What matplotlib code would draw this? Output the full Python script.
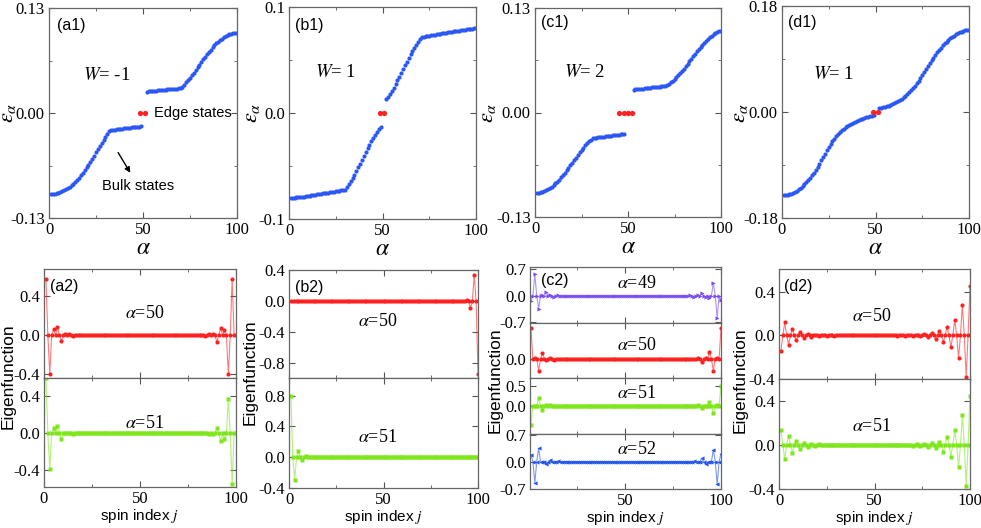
import numpy as np
import matplotlib
matplotlib.use("Agg")
import matplotlib.pyplot as plt
from matplotlib.ticker import FixedLocator, FormatStrFormatter

plt.rcParams["font.family"] = "Liberation Serif"
plt.rcParams["mathtext.fontset"] = "stix"
plt.rcParams["axes.unicode_minus"] = False

BLUE = "#2a57f5"
RED = "#ff2020"
GREEN = "#7fe61c"
PURPLE = "#7a4cf2"
BLUE2 = "#2255ee"

# ---------------- top row: spectra ----------------
a1_low = [-0.1003, -0.1001, -0.0998, -0.0993, -0.0987, -0.0979, -0.0970, -0.0959, -0.0946, -0.0931,
          -0.0914, -0.0895, -0.0874, -0.0851, -0.0826, -0.0799, -0.0770, -0.0739, -0.0707, -0.0673,
          -0.0638, -0.0602, -0.0565, -0.0527, -0.0489, -0.0451, -0.0413, -0.0376, -0.0338, -0.0299,
          -0.0259, -0.0218,
          -0.0212, -0.0209, -0.0206, -0.0203, -0.0200, -0.0197, -0.0194, -0.0191, -0.0188, -0.0185,
          -0.0182, -0.0179, -0.0176, -0.0173, -0.0170, -0.0168, -0.0166]
a1_up = [0.0266, 0.0268, 0.0270, 0.0273, 0.0275, 0.0277, 0.0280, 0.0282, 0.0284, 0.0286,
         0.0289, 0.0291, 0.0293, 0.0296, 0.0298, 0.0300, 0.0303, 0.0305, 0.0307,
         0.0328, 0.0352, 0.0378, 0.0406, 0.0436, 0.0467, 0.0499, 0.0532, 0.0565, 0.0598,
         0.0631, 0.0663, 0.0695, 0.0726, 0.0756, 0.0785, 0.0812, 0.0838, 0.0862, 0.0884,
         0.0904, 0.0922, 0.0938, 0.0952, 0.0964, 0.0973, 0.0980, 0.0985, 0.0989, 0.0991]

b1_low = [-0.0800, -0.0799, -0.0798, -0.0797, -0.0795, -0.0793, -0.0791, -0.0789, -0.0786, -0.0783,
          -0.0780, -0.0777, -0.0774, -0.0771, -0.0768, -0.0765, -0.0762, -0.0759, -0.0756, -0.0753,
          -0.0750, -0.0747, -0.0744, -0.0741, -0.0738, -0.0735, -0.0732, -0.0729, -0.0726, -0.0722,
          -0.0698, -0.0672, -0.0644, -0.0614, -0.0582, -0.0548, -0.0513, -0.0477, -0.0441, -0.0405,
          -0.0369, -0.0334, -0.0300, -0.0267, -0.0236, -0.0207, -0.0180, -0.0155, -0.0132]
b1_up = [0.0128, 0.0153, 0.0180, 0.0209, 0.0240, 0.0273, 0.0307, 0.0342, 0.0378, 0.0414,
         0.0450, 0.0485, 0.0519, 0.0552, 0.0583, 0.0613, 0.0642, 0.0669, 0.0695, 0.0718,
         0.0721, 0.0724, 0.0727, 0.0730, 0.0733, 0.0736, 0.0739, 0.0742, 0.0745, 0.0748,
         0.0751, 0.0754, 0.0757, 0.0760, 0.0763, 0.0766, 0.0769, 0.0772, 0.0775, 0.0778,
         0.0781, 0.0784, 0.0787, 0.0790, 0.0792, 0.0794, 0.0796, 0.0798, 0.0800]

c1_low = [-0.1003, -0.1000, -0.0995, -0.0988, -0.0979, -0.0968, -0.0955, -0.0940, -0.0923, -0.0904,
          -0.0883, -0.0860, -0.0835, -0.0808, -0.0780, -0.0751, -0.0720, -0.0689, -0.0657, -0.0625,
          -0.0592, -0.0560, -0.0528, -0.0497, -0.0467, -0.0438, -0.0410, -0.0384, -0.0360, -0.0338,
          -0.0318,
          -0.0315, -0.0312, -0.0309, -0.0306, -0.0303, -0.0300, -0.0297, -0.0294, -0.0291, -0.0288,
          -0.0285, -0.0282, -0.0279, -0.0276, -0.0273, -0.0270, -0.0268]
c1_up = [0.0285, 0.0288, 0.0290, 0.0293, 0.0296, 0.0298, 0.0301, 0.0304, 0.0306, 0.0309,
         0.0312, 0.0314, 0.0317, 0.0320, 0.0322, 0.0325, 0.0328, 0.0330,
         0.0342, 0.0357, 0.0374, 0.0393, 0.0414, 0.0437, 0.0462, 0.0489, 0.0517, 0.0546,
         0.0576, 0.0607, 0.0638, 0.0669, 0.0700, 0.0731, 0.0761, 0.0790, 0.0818, 0.0845,
         0.0870, 0.0893, 0.0914, 0.0935, 0.0955, 0.0972, 0.0988, 0.1001, 0.1011, 0.1018]

d1_low = [-0.1408, -0.1406, -0.1402, -0.1395, -0.1385, -0.1372, -0.1356, -0.1337, -0.1315, -0.1290,
          -0.1262, -0.1231, -0.1197, -0.1160, -0.1120, -0.1077, -0.1031, -0.0982, -0.0930, -0.0875,
          -0.0819, -0.0762, -0.0705, -0.0650, -0.0597, -0.0547, -0.0500, -0.0456, -0.0416, -0.0379,
          -0.0345, -0.0314, -0.0286, -0.0260, -0.0237, -0.0216, -0.0197, -0.0180, -0.0164, -0.0150,
          -0.0137, -0.0125, -0.0114, -0.0103, -0.0093, -0.0083, -0.0074, -0.0065, -0.0057]
d1_up = [0.0060, 0.0068, 0.0077, 0.0087, 0.0098, 0.0110, 0.0123, 0.0137, 0.0152, 0.0168,
         0.0186, 0.0205, 0.0226, 0.0249, 0.0274, 0.0302, 0.0333, 0.0367, 0.0404, 0.0444,
         0.0487, 0.0533, 0.0581, 0.0631, 0.0683, 0.0730, 0.0780, 0.0830, 0.0878, 0.0925,
         0.0970, 0.1013, 0.1054, 0.1093, 0.1130, 0.1164, 0.1196, 0.1225, 0.1252, 0.1276,
         0.1298, 0.1318, 0.1336, 0.1351, 0.1364, 0.1375, 0.1384, 0.1391, 0.1396]

alpha_lo = np.arange(1, 50)
alpha_up = np.arange(52, 101)
alpha_lo_c = np.arange(1, 49)
alpha_up_c = np.arange(53, 101)

# edge-state dots as drawn (spread slightly apart in the figure)
edge_a1 = [48.3, 50.9]
edge_b1 = [48.7, 50.9]
edge_c1 = [45.2, 47.6, 50.0, 52.4]
edge_d1 = [48.6, 51.2]

# ---------------- bottom row: eigenfunctions ----------------
j = np.arange(1, 101)

psi_a50 = ([0.58, 0, -0.40, 0, 0.06, 0, 0.08, 0, -0.06, 0, 0.01, 0, 0.01, 0, -0.01, 0] + [0.0] * 67
           + [-0.01, 0, 0.01, 0, 0.01, 0, -0.07, 0, 0.07, 0, 0.05, 0, -0.40, 0, 0.58, 0, 0])
psi_a51 = ([0.60, 0, -0.39, 0, 0.055, 0, 0.08, 0, -0.065, 0, 0.01, 0, 0.01, 0, -0.01, 0] + [0.0] * 67
           + [0.01, 0, -0.01, 0, -0.01, 0, 0.055, 0, -0.08, 0, -0.06, 0, 0.37, 0, -0.55, 0, 0])

psi_b50 = [0.0] * 91 + [0.005, 0, 0.02, 0, -0.09, 0, 0.34, 0, -0.94]
psi_b51 = [0.80, 0, -0.29, 0, 0.08, 0, -0.03, 0, 0.01, 0] + [0.0] * 90

psi_c49 = ([-0.14, 0, 0.57, 0, -0.34, 0, 0.02, 0, 0.09, 0, 0.03, 0, -0.02, 0, 0.01, 0] + [0.0] * 67
           + [0.01, 0, -0.02, 0, 0.02, 0, 0.07, 0, -0.03, 0, -0.05, 0, 0.34, 0, -0.60, 0, -0.12])
psi_c50 = ([0.62, 0, 0.02, 0, -0.23, 0, 0.13, 0, -0.02, 0, 0.02, 0, -0.01, 0, 0.01, 0] + [0.0] * 67
           + [0.0, 0, 0.01, 0, 0.03, 0, -0.05, 0, 0.02, 0, 0.14, 0, -0.23, 0, 0.03, 0, 0.62])
psi_c51 = ([-0.48, 0, 0.0, 0, 0.20, 0, -0.09, 0, 0.02, 0, 0.03, 0, -0.01, 0, 0.01, 0] + [0.0] * 67
           + [0.0, 0, 0.01, 0, 0.02, 0, -0.04, 0, 0.01, 0, 0.11, 0, -0.18, 0, 0.02, 0, 0.50])
psi_c52 = ([0.18, 0, -0.56, 0, 0.35, 0, -0.01, 0, -0.07, 0, 0.04, 0, -0.02, 0, 0.01, 0] + [0.0] * 67
           + [0.0, 0, 0.01, 0, -0.02, 0, 0.09, 0, -0.06, 0, -0.02, 0, 0.31, 0, -0.59, 0, 0.21])

psi_d50 = ([-0.14, 0, 0.12, 0, -0.085, 0, 0.06, 0, -0.045, 0, 0.03, 0, -0.02, 0, 0.015, 0,
            -0.01, 0, 0.008, 0, -0.005, 0, 0.004, 0, -0.003, 0, 0.002, 0, -0.001, 0] + [0.0] * 29
           + [0.001, 0, -0.0015, 0, 0.002, 0, -0.003, 0, 0.004, 0, -0.005, 0, 0.007, 0, -0.009, 0,
              0.012, 0, -0.016, 0, 0.022, 0, -0.03, 0, 0.04, 0, -0.06, 0, 0.077, 0, -0.108, 0,
              0.145, 0, -0.206, 0, 0.283, 0, -0.378, 0, 0.452])
psi_d51 = ([0.135, 0, -0.126, 0, 0.084, 0, -0.07, 0, 0.039, 0, -0.04, 0, 0.02, 0, -0.015, 0,
            0.01, 0, -0.008, 0, 0.005, 0, -0.004, 0, 0.003, 0, -0.002, 0, 0.001, 0] + [0.0] * 29
           + [0.001, 0, -0.0015, 0, 0.002, 0, -0.003, 0, 0.004, 0, -0.005, 0, 0.006, 0, -0.008, 0,
              0.011, 0, -0.015, 0, 0.02, 0, -0.025, 0, 0.03, 0, -0.063, 0, 0.075, 0, -0.105, 0,
              0.135, 0, -0.20, 0, 0.27, 0, -0.374, 0, 0.443])

W, H = 981, 528
fig = plt.figure(figsize=(W / 100, H / 100), dpi=100)


def add_ax(l, r, t, b):
    return fig.add_axes([l / W, 1 - b / H, (r - l) / W, (b - t) / H])


def style(ax):
    ax.tick_params(which="both", direction="in", top=True, right=True, labelsize=12,
                   color="#555555", pad=3)
    ax.tick_params(which="major", length=4, width=0.8)
    ax.tick_params(which="minor", length=2.5, width=0.6)
    for s in ax.spines.values():
        s.set_color("#666666")
        s.set_linewidth(0.9)


def sans_text(ax, x, y, s, size=11.5, **kw):
    ax.text(x, y, s, transform=ax.transAxes, fontfamily="Liberation Sans", fontsize=size,
            va="center", **kw)


# top panels
top = [
    ((49, 237, 8, 218), a1_low, a1_up, alpha_lo, alpha_up, edge_a1, 0.13, "%.2f", "(a1)",
     r"$W$= -1", (0.043, 0.919), (0.18, 0.68), 8),
    ((289, 476, 7, 219), b1_low, b1_up, alpha_lo, alpha_up, edge_b1, 0.1, "%.1f", "(b1)",
     r"$W$= 1", (0.03, 0.915), (0.14, 0.69), 252),
    ((535, 721, 8, 217), c1_low, c1_up, alpha_lo_c, alpha_up_c, edge_c1, 0.13, "%.2f", "(c1)",
     r"$W$= 2", (0.03, 0.93), (0.156, 0.69), 489),
    ((782, 969, 6, 218), d1_low, d1_up, alpha_lo, alpha_up, edge_d1, 0.18, "%.2f", "(d1)",
     r"$W$= 1", (0.03, 0.92), (0.164, 0.675), 741),
]

top_axes = []
for rect, lo, up, xlo, xup, edge, lim, fmt, tag, wtxt, tagpos, wpos, ylx in top:
    ax = add_ax(*rect)
    style(ax)
    ax.plot(xlo, lo, "o", ms=3.0, color=BLUE, mec="none")
    ax.plot(xup, up, "o", ms=3.0, color=BLUE, mec="none")
    ax.plot(edge, [0.0] * len(edge), "o", ms=3.8, color=RED, mec="none", zorder=5)
    ax.set_xlim(0, 100)
    ax.set_ylim(-lim, lim)
    ax.xaxis.set_major_locator(FixedLocator([0, 50, 100]))
    ax.xaxis.set_minor_locator(FixedLocator([25, 75]))
    ax.yaxis.set_major_locator(FixedLocator([-lim, 0, lim]))
    ax.yaxis.set_minor_locator(FixedLocator([-lim / 2, lim / 2]))
    ax.yaxis.set_major_formatter(FormatStrFormatter(fmt))
    ax.set_xlabel(r"$\alpha$", fontsize=17)
    ax.xaxis.set_label_coords(0.5, -0.095)
    sans_text(ax, tagpos[0], tagpos[1], tag, ha="left")
    ax.text(wpos[0], wpos[1], wtxt, transform=ax.transAxes, fontsize=13.5, va="center", ha="left")
    fig.text(ylx / W, 1 - 113 / H, r"$\varepsilon_\alpha$", fontsize=16, rotation=90,
             ha="center", va="center")
    top_axes.append(ax)

ax = top_axes[0]
ax.text(56, 0.0, "Edge states", fontfamily="Liberation Sans", fontsize=10.5, va="center", ha="left")
ax.text(28, -0.090, "Bulk states", fontfamily="Liberation Sans", fontsize=10.5, va="center", ha="left")
ax.annotate("", xy=(44, -0.077), xytext=(36, -0.046),
            arrowprops=dict(arrowstyle="-|>", color="black", lw=1.0, mutation_scale=8))

# bottom panels: (x range px, [(y_top, y_bottom, psi, color, marker, ylim, yticks, text, text_y)], ...)
bottom = [
    ((44, 236), [(269, 378, psi_a50, RED, "o", (-0.44, 0.68), [-0.4, 0.0, 0.4], r"$\alpha$=50", 0.596),
                 (378, 487, psi_a51, GREEN, "s", (-0.58, 0.60), [-0.4, 0.0, 0.4], r"$\alpha$=51", 0.587)],
     "(a2)", 0.03, 0.526, 0, 8, 376),
    ((289, 478), [(270, 378, psi_b50, RED, "o", (-0.99, 0.40), [-0.8, -0.4, 0.0, 0.4], r"$\alpha$=50", 0.52),
                  (378, 488, psi_b51, GREEN, "s", (-0.40, 1.03), [-0.4, 0.0, 0.4, 0.8], r"$\alpha$=51", 0.455)],
     "(b2)", 0.03, 0.47, 0, 250, 372),
    ((530, 721), [(267, 323, psi_c49, PURPLE, ">", (-0.72, 0.76), [-0.7, 0.0, 0.7], r"$\alpha$=49", 0.70),
                  (323, 378, psi_c50, RED, "o", (-0.38, 0.72), [0.0], r"$\alpha$=50", 0.60),
                  (378, 434, psi_c51, GREEN, "s", (-0.70, 0.70), [0.0, 0.5], r"$\alpha$=51", 0.73),
                  (434, 489, psi_c52, BLUE2, "<", (-0.71, 0.72), [-0.7, 0.0, 0.7], r"$\alpha$=52", 0.727)],
     "(c2)", 0.06, 0.56, 0.5, 495, 380),
    ((779, 970), [(269, 379, psi_d50, RED, "o", (-0.40, 0.61), [-0.4, 0.0, 0.4], r"$\alpha$=50", 0.564),
                  (379, 489, psi_d51, GREEN, "s", (-0.40, 0.60), [-0.4, 0.0, 0.4], r"$\alpha$=51", 0.564)],
     "(d2)", 0.025, 0.487, 0, 740, 380),
]

for (l, r), subs, tag, tagx, tx, x0, ylx, yly in bottom:
    n = len(subs)
    for k, (t, b, psi, col, mk, ylim, yt, txt, ty) in enumerate(subs):
        ax = add_ax(l, r, t, b)
        style(ax)
        ax.plot(j, psi, "-", color=col, lw=0.8, alpha=0.6)
        ax.plot(j, psi, mk, ms=3.0, color=col, mec="none", ls="none")
        ax.set_xlim(x0, 100)
        ax.set_ylim(*ylim)
        ax.yaxis.set_major_locator(FixedLocator(yt))
        ax.yaxis.set_major_formatter(FormatStrFormatter("%.1f"))
        if x0 > 0:
            ax.xaxis.set_major_locator(FixedLocator([50, 100]))
        else:
            ax.xaxis.set_major_locator(FixedLocator([0, 50, 100]))
        ax.xaxis.set_minor_locator(FixedLocator([25, 75]))
        ax.text(tx, ty, txt, transform=ax.transAxes, fontsize=13, ha="center", va="center")
        if k == 0:
            sans_text(ax, tagx, 0.84 if n == 2 else 0.75, tag, ha="left")
        if k < n - 1:
            ax.tick_params(labelbottom=False)
        else:
            ax.set_xlabel(r"spin index $j$", fontfamily="Liberation Sans", fontsize=11)
            ax.xaxis.set_label_coords(0.5, -20.0 / (b - t))
    fig.text(ylx / W, 1 - yly / H, "Eigenfunction", fontfamily="Liberation Sans", fontsize=12.5,
             rotation=90, ha="center", va="center")

fig.savefig("out.png", dpi=100)
